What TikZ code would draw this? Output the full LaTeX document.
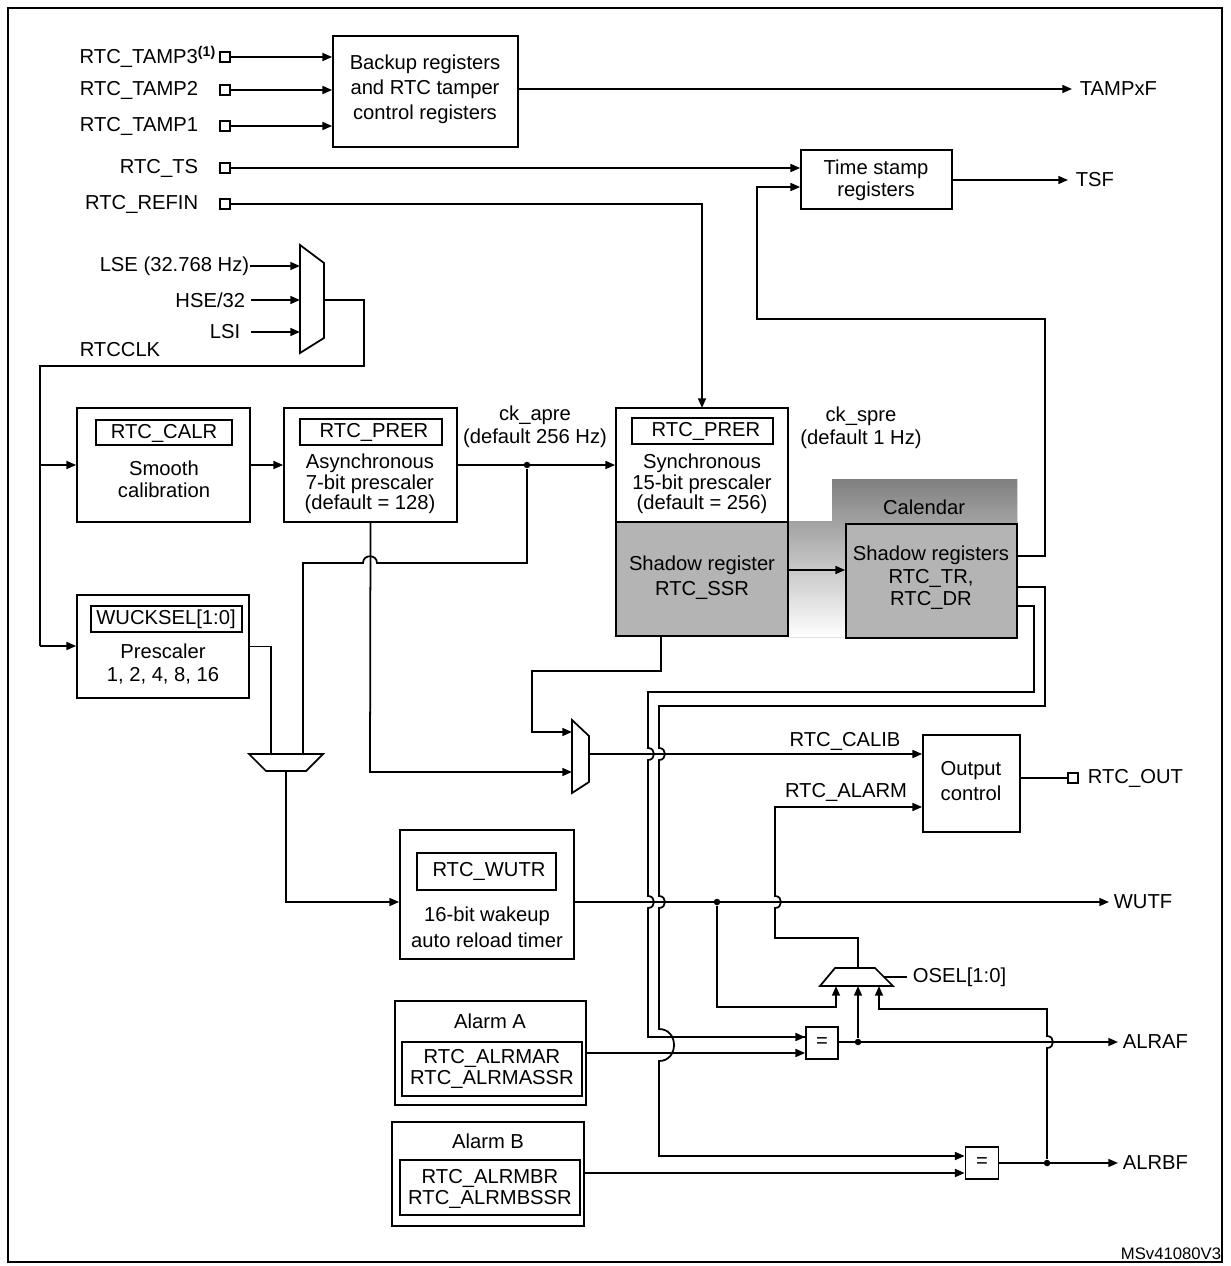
\documentclass[tikz,border=0pt]{standalone}
\usepackage{fontspec}
\setmainfont{Liberation Sans}
\usetikzlibrary{arrows.meta,fit}
\definecolor{shade}{RGB}{180,180,180}
\tikzset{
  blk/.style={draw,line width=1pt,inner sep=0pt},
  lbl/.style={inner sep=0pt,align=center},
  ls/.style={font=\fontsize{11.5}{#1}\selectfont},
  pad/.style={draw,line width=1pt,fill=white,minimum size=0.2cm,inner sep=0pt},
  dot/.style={fill,circle,inner sep=0pt,minimum size=0.13cm},
  >={Triangle[length=5.5pt,width=4.5pt]},
}
\begin{document}
\begin{tikzpicture}[x=0.02cm,y=-0.02cm,line width=1pt,font=\fontsize{11.5}{13}\selectfont]
\useasboundingbox (0,0) rectangle (1230,1266);
\draw (8,8) rectangle (1222,1262);

% input pins
\node[pad] (pT3) at (225,57) {};
\node[pad] (pT2) at (225,90) {};
\node[pad] (pT1) at (225,126) {};
\node[pad] (pTS) at (225,168) {};
\node[pad] (pRF) at (225,204) {};
\node[lbl,anchor=east] at (217,57) {RTC\_TAMP3\textsuperscript{\textbf{(1)}}};
\node[lbl,anchor=east] at (199,90) {RTC\_TAMP2};
\node[lbl,anchor=east] at (199,126) {RTC\_TAMP1};
\node[lbl,anchor=east] at (199,168) {RTC\_TS};
\node[lbl,anchor=east] at (199,204) {RTC\_REFIN};

% backup and time stamp
\node[blk,fit={(333,36)(518,147)}] (bkp) {};
\node[lbl,ls=14.2pt] at (425,89) {Backup registers\\and RTC tamper\\control registers};
\node[blk,fit={(801,150)(952,209)}] (tsr) {};
\node[lbl,ls=12.5pt] at (876,180) {Time stamp\\registers};
\coordinate (tampxf) at (1072,89);
\coordinate (tsf) at (1068,180);
\node[lbl,anchor=west] at (1079,89) {TAMPxF};
\node[lbl,anchor=west] at (1075,180) {TSF};
\draw[->] (pT3) -- (pT3 -| bkp.west);
\draw[->] (pT2) -- (pT2 -| bkp.west);
\draw[->] (pT1) -- (pT1 -| bkp.west);
\draw[->] (bkp.east |- tampxf) -- (tampxf);
\draw[->] (pTS) -- (pTS -| tsr.west);
\draw[->] (tsr.east |- tsf) -- (tsf);

% clock source mux
\draw (300,245) -- (324,263) -- (324,338) -- (300,353) -- cycle;
\coordinate (m1a) at (300,266);
\coordinate (m1b) at (300,300);
\coordinate (m1c) at (300,332);
\coordinate (m1o) at (324,300);
\node[lbl,anchor=east] (lse) at (250,266) {LSE (32.768 Hz)};
\node[lbl,anchor=east] (hse) at (246,300) {HSE/32};
\node[lbl,anchor=east] (lsi) at (241,332) {LSI};
\draw[->] (lse.east) -- (m1a);
\draw[->] (251,300) -- (m1b);
\draw[->] (251,332) -- (m1c);
\node[lbl] at (120,350) {RTCCLK};
\coordinate (clk1) at (40,465);
\coordinate (clk2) at (40,646);
\draw (m1o) -| (364,366) -| (clk2);

% prescalers
\node[blk,fit={(77,408)(250,522)}] (smc) {};
\node[blk,fit={(96,420)(232,445)}] {};
\node[lbl] at (164,433) {RTC\_CALR};
\node[lbl,ls=12.5pt] at (164,479) {Smooth\\calibration};
\node[blk,fit={(284,408)(457,522)}] (asy) {};
\node[blk,fit={(300,419)(442,445)}] {};
\node[lbl] at (374,432) {RTC\_PRER};
\node[lbl,ls=11.8pt] at (370,484) {Asynchronous\\7-bit prescaler\\(default = 128)};
\node[blk,fill=white,fit={(616,408)(788,522)}] (syn) {};
\node[blk,fit={(632,418)(773,444)}] {};
\node[lbl] at (706,431) {RTC\_PRER};
\node[lbl,ls=11.8pt] at (702,484) {Synchronous\\15-bit prescaler\\(default = 256)};
\node[lbl,ls=13pt] at (535,427) {ck\_apre\\(default 256 Hz)};
\node[lbl,ls=13pt] at (861,428) {ck\_spre\\(default 1 Hz)};
\draw[->] (clk1) -- (clk1 -| smc.west);
\draw[->] (smc.east) -- (asy.west);
\draw[->] (asy.east) -- (syn.west);
\node[dot] (ja) at (527,465) {};
\draw[->] (pRF) -| (702,408);

% calendar
\fill[shade] (788,521) -| (832,479) -| (1017,637) -- (788,637) -- cycle;
\node[blk,fill=shade,fit={(616,522)(788,636)}] (ssr) {};
\node[lbl,ls=14.2pt] at (702,578) {Shadow register\\RTC\_SSR};
\node[lbl] at (924,507) {Calendar};
\node[blk,fill=shade,fit={(846,524)(1017,638)}] (cal) {};
\node[lbl,ls=12.8pt] at (931,578) {Shadow registers\\RTC\_TR,\\RTC\_DR};
\draw[->] (ssr.east |- 0,570) -- (cal.west |- 0,570);
\draw[->] (cal.east |- 0,556) -- (1045,556) -- (1045,319) -- (757,319) -- (757,187) -- (tsr.west |- 0,187);

% wakeup
\node[blk,fit={(77,595)(249,698)}] (wuk) {};
\node[blk,fit={(91,606)(242,632)}] {};
\node[lbl] at (166,619) {WUCKSEL[1:0]};
\node[lbl,ls=13.6pt] at (163,664) {Prescaler\\1, 2, 4, 8, 16};
\draw[->] (clk2) -- (clk2 -| wuk.west);
\draw (249,754) -- (323,754) -- (306,771) -- (266,771) -- cycle;
\coordinate (m3o) at (286,771);
\draw (wuk.east) -| (271,754);
\draw (ja) -- (527,563) -- (377,563) .. controls (377,554) and (363,554) .. (363,563) -- (303,563) -- (303,754);
\node[blk,fit={(400,830)(574,959)}] (wut) {};
\node[blk,fit={(417,853)(556,890)}] {};
\node[lbl] at (489,871) {RTC\_WUTR};
\node[lbl,ls=14.8pt] at (487,927) {16-bit wakeup\\auto reload timer};
\draw[->] (m3o) |- (wut.west |- 0,902);
\coordinate (wutf) at (1109,902);
\node[lbl,anchor=west] at (1113,902) {WUTF};
\draw[->] (wut.east |- wutf) -- (wutf);
\node[dot] (jw) at (717,902) {};

% calibration output mux
\draw (572,720) -- (589,736) -- (589,782) -- (572,793) -- cycle;
\coordinate (m2a) at (572,732);
\coordinate (m2b) at (572,772);
\coordinate (m2o) at (589,754);
\draw[->] (asy.south) -- (370,772) -- (m2b);
\draw[->] (661,636) -- (661,671) -| (532,732) -- (m2a);
\node[blk,fit={(923,735)(1020,832)}] (opc) {};
\node[lbl,ls=14.2pt] at (971,781) {Output\\control};
\draw[->] (m2o) -- (opc.west |- m2o);
\node[lbl] at (845,741) {RTC\_CALIB};
\node[lbl] at (846,792) {RTC\_ALARM};
\node[pad] (pout) at (1073,778) {};
\draw (opc.east |- pout) -- (pout);
\node[lbl,anchor=west] at (1087,778) {RTC\_OUT};

% alarm comparators
\node[blk,fit={(395,1001)(586,1105)}] (alA) {};
\node[lbl] at (490,1021) {Alarm A};
\node[blk,fit={(402,1042)(582,1096)}] {};
\node[lbl,ls=12pt] at (492,1069) {RTC\_ALRMAR\\RTC\_ALRMASSR};
\node[blk,fit={(392,1122)(584,1226)}] (alB) {};
\node[lbl] at (488,1141) {Alarm B};
\node[blk,fit={(400,1160)(580,1215)}] {};
\node[lbl,ls=12pt] at (490,1189) {RTC\_ALRMBR\\RTC\_ALRMBSSR};
\node[blk,minimum width=0.64cm,minimum height=0.64cm] (eqA) at (822,1043) {=};
\node[blk,minimum width=0.66cm,minimum height=0.64cm] (eqB) at (982,1163) {=};
\draw (1017,606) -- (1034,606) -- (1034,692) -- (648,692) -- (648,748) .. controls (656,748) and (656,760) .. (648,760)
  -- (648,896) .. controls (656,896) and (656,908) .. (648,908) -- (648,1037) -- (806,1037);
\draw[->] (1017,1037) (648,1037) -- (eqA.west |- 0,1037);
\draw[->] (1017,587) -- (1045,587) -- (1045,706) -- (659,706) -- (659,748) .. controls (667,748) and (667,760) .. (659,760)
  -- (659,896) .. controls (667,896) and (667,908) .. (659,908) -- (659,1029) .. controls (679,1029) and (679,1061) .. (659,1061)
  -- (659,1156) -- (eqB.west |- 0,1156);
\draw[->] (alA.east |- 0,1053) -- (eqA.west |- 0,1053);
\draw[->] (alB.east |- 0,1173) -- (eqB.west |- 0,1173);
\coordinate (alraf) at (1118,1042);
\coordinate (alrbf) at (1118,1163);
\node[lbl,anchor=west] at (1122,1042) {ALRAF};
\node[lbl,anchor=west] at (1122,1163) {ALRBF};
\draw[->] (eqA.east |- alraf) -- (alraf);
\draw[->] (eqB.east) -- (alrbf);
\node[dot] (jA) at (858,1042) {};
\node[dot] (jB) at (1047,1163) {};

% output select mux
\draw (835,968) -- (875,968) -- (893,986) -- (820,986) -- cycle;
\coordinate (m4a) at (836,986);
\coordinate (m4b) at (858,986);
\coordinate (m4c) at (879,986);
\draw[->] (jw) |- (836,1007) -- (m4a);
\draw[->] (jA) -- (m4b);
\draw[->] (jB) -- (1047,1048) .. controls (1055,1048) and (1055,1036) .. (1047,1036) -- (1047,1009) -| (m4c);
\draw[->] (858,968) -- (858,938) -- (775,938) -- (775,908) .. controls (783,908) and (783,896) .. (775,896) -- (775,807) -- (opc.west |- 0,807);
\draw (884,977) -- (907,977);
\node[lbl,anchor=west] at (912,977) {OSEL[1:0]};

\node[lbl,anchor=east,font=\fontsize{9.5}{11}\selectfont] at (1222,1254) {MSv41080V3};
\end{tikzpicture}
\end{document}
